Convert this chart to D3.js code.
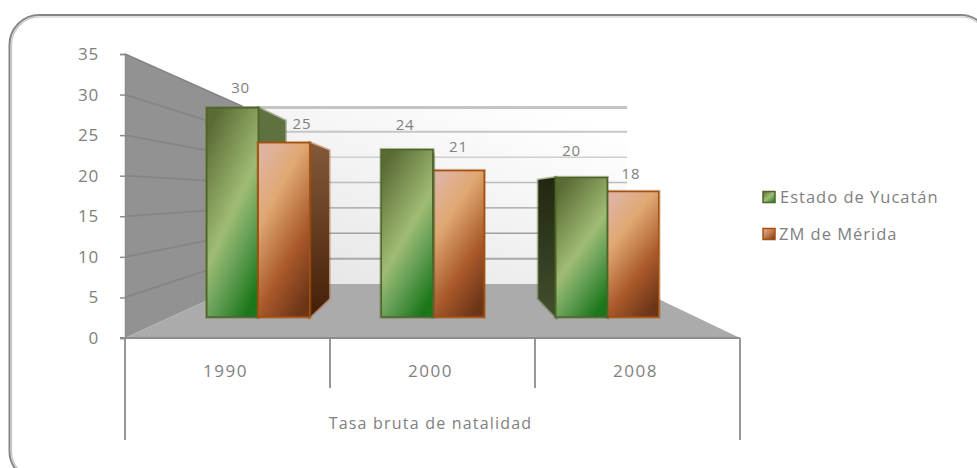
<!DOCTYPE html>
<html>
<head>
<meta charset="utf-8">
<script src="https://cdn.jsdelivr.net/npm/d3@7"></script>
<style>
  html, body { margin: 0; padding: 0; background: #fff; overflow: hidden; }
  text { font-family: "Open Sans", sans-serif; fill: #808080; }
</style>
</head>
<body>
<div id="chart"></div>
<script>
// Chart values
const years = ["1990", "2000", "2008"];
const seriesNames = ["Estado de Yucatán", "ZM de Mérida"];
const yucatan = [30, 24, 20];
const merida = [25, 21, 18];
const valueTicks = [0, 5, 10, 15, 20, 25, 30, 35];
const groupLabel = "Tasa bruta de natalidad";

// Label nudges, the original labels sit wherever Excel put them
const labelNudge = [[[8, -20], [18, -19]], [[-2, -25], [0, -24]], [[-10, -27], [-2, -18]]];

const width = 977;
const height = 468;

// Everything recedes towards one vanishing point
const vanish = [439, 194];
const wallDepth = 0.375;
const barDepth = 0.15;

function project(x, y, k) {
  return [x + (vanish[0] - x) * k, y + (vanish[1] - y) * k];
}

const svg = d3.select("#chart").append("svg")
  .attr("width", width)
  .attr("height", height)
  .style("display", "block");

// scales
const axisY = d3.scaleLinear().domain([0, 35]).range([338, 54]);
const barY = d3.scaleLinear().domain([0, 35]).range([317, 73]);
const floorX = d3.scaleBand().domain(years).range([125, 740]);
const barX = d3.scaleBand().domain(years).range([171, 694.5]).paddingInner(0.41).paddingOuter(0.205);
const seriesX = d3.scaleBand().domain(seriesNames).range([0, barX.bandwidth()]);

// gradients
const defs = svg.append("defs");

function addGradient(id, stops, coords) {
  const g = defs.append("linearGradient").attr("id", id)
    .attr("x1", coords[0]).attr("y1", coords[1]).attr("x2", coords[2]).attr("y2", coords[3]);
  stops.forEach((s) => g.append("stop").attr("offset", s[0]).attr("stop-color", s[1]));
}

const diagonal = [0.24, 0, 0.76, 1];
addGradient("greenFront", [[0, "#5a6c34"], [0.5, "#a0bc74"], [0.72, "#649f55"], [1, "#1a7618"]], diagonal);
addGradient("orangeFront", [[0, "#dfb3a0"], [0.28, "#e0a872"], [0.68, "#a9582a"], [1, "#6c3518"]], diagonal);
addGradient("greenSideRight", [[0, "#5f7240"], [1, "#55683a"]], [0, 0, 0, 1]);
addGradient("orangeSideRight", [[0, "#85593a"], [1, "#431f08"]], [0, 0, 0, 1]);
addGradient("greenSideLeft", [[0, "#20270f"], [1, "#424f2e"]], [0, 0, 0, 1]);
addGradient("orangeSideLeft", [[0, "#85593a"], [1, "#431f08"]], [0, 0, 0, 1]);
addGradient("backWall", [[0, "#e4e4e4"], [0.6, "#f4f4f4"], [1, "#ffffff"]], [0, 1, 0.8, 0]);
addGradient("legendGreen", [[0, "#5a6c34"], [0.5, "#a0bc74"], [1, "#1a7618"]], [0, 0, 1, 1]);
addGradient("legendOrange", [[0, "#dfb3a0"], [0.5, "#c47a4a"], [1, "#6c3518"]], [0, 0, 1, 1]);

// Outer frame, it runs off the page on the right and at the bottom
svg.append("rect").attr("x", 9.5).attr("y", 15).attr("width", 981).attr("height", 466)
  .attr("rx", 30).attr("fill", "none").attr("stroke", "#858585").attr("stroke-width", 2);
svg.append("rect").attr("x", 11.5).attr("y", 17).attr("width", 977).attr("height", 462)
  .attr("rx", 28).attr("fill", "none").attr("stroke", "#c4c4c4").attr("stroke-width", 1.2);

// Walls and floor
const x0 = floorX.range()[0];
const x1 = floorX.range()[1];
const yBase = axisY(0);
const yTop = axisY(35);
const line = d3.line();

const backTL = project(x0, yTop, wallDepth);
const backBL = project(x0, yBase, wallDepth);
const backBR = project(x1, yBase, wallDepth);

svg.append("rect")
  .attr("x", backTL[0]).attr("y", backTL[1])
  .attr("width", backBR[0] - backTL[0]).attr("height", backBR[1] - backTL[1])
  .attr("fill", "url(#backWall)");

svg.append("path")
  .attr("d", line([[x0, yTop], backTL, backBL, [x0, yBase]]) + "Z")
  .attr("fill", "#929292");

svg.append("path")
  .attr("d", line([[x0, yBase], backBL, backBR, [x1, yBase]]) + "Z")
  .attr("fill", "#ababab");

// Gridlines on both walls, projected from the axis ticks
const gridStyle = { 30: ["#c6c6c6", 2], 25: ["#cfcfcf", 1.5], 20: ["#bcbcbc", 1.5], 15: ["#a0a0a0", 1.2],
                    10: ["#a0a0a0", 1.5], 5: ["#a8a8a8", 2], 0: ["#ababab", 0] };

valueTicks.forEach((v) => {
  const back = project(x0, axisY(v), wallDepth);
  const right = project(x1, axisY(v), wallDepth);
  if (v > 0) {
    svg.append("line").attr("x1", x0).attr("y1", axisY(v)).attr("x2", back[0]).attr("y2", back[1])
      .attr("stroke", "#858585").attr("stroke-width", 1.8);
  }
  if (v > 0 && v < 35) {
    svg.append("line").attr("x1", back[0]).attr("y1", back[1]).attr("x2", right[0]).attr("y2", right[1])
      .attr("stroke", gridStyle[v][0]).attr("stroke-width", gridStyle[v][1]);
  }
});
// top edge of the back wall
svg.append("line").attr("x1", backTL[0]).attr("y1", backTL[1] + 1).attr("x2", backBR[0]).attr("y2", backTL[1] + 1)
  .attr("stroke", "#c4c4c4").attr("stroke-width", 3);

// Bars
const bars = [];
years.forEach((year, i) => {
  bars.push({ year: year, i: i, s: 0, value: yucatan[i], name: seriesNames[0], color: "green" });
  bars.push({ year: year, i: i, s: 1, value: merida[i], name: seriesNames[1], color: "orange" });
});

const edgeColor = { green: "#4f6428", orange: "#a3510f" };

function drawBar(d) {
  const g = svg.append("g").attr("class", "bar");
  const left = barX(d.year) + seriesX(d.name);
  const right = left + seriesX.bandwidth();
  const top = barY(d.value);
  const bottom = barY(0);

  // side faces first, only the one that shows past the front
  const side = (x, name) => {
    const t = project(x, top, barDepth);
    const b = project(x, bottom, barDepth);
    const pts = [[x, top], t, b, [x, bottom]];
    g.append("path").attr("d", line(pts) + "Z")
      .attr("fill", "none").attr("stroke", edgeColor[d.color]).attr("stroke-opacity", 0.45).attr("stroke-width", 3);
    g.append("path").attr("d", line(pts) + "Z").attr("fill", "url(#" + d.color + name + ")");
  };
  if (project(right, top, barDepth)[0] > right) side(right, "SideRight");
  if (project(left, top, barDepth)[0] < left) side(left, "SideLeft");

  g.append("rect").attr("x", left).attr("y", top)
    .attr("width", right - left).attr("height", bottom - top)
    .attr("fill", "none").attr("stroke", edgeColor[d.color]).attr("stroke-opacity", 0.4).attr("stroke-width", 3.5);
  g.append("rect").attr("x", left).attr("y", top)
    .attr("width", right - left).attr("height", bottom - top)
    .attr("fill", "url(#" + d.color + "Front)")
    .attr("stroke", edgeColor[d.color]).attr("stroke-width", 1.5);
}

// orange first so the green front covers its left edge; 1990 green side sits behind its orange
bars.filter((d) => d.s === 0 && d.i === 0).forEach(drawBar);
bars.filter((d) => d.s === 1).forEach(drawBar);
bars.filter((d) => d.s === 0 && d.i > 0).forEach(drawBar);

// Data labels
bars.forEach((d) => {
  const nudge = labelNudge[d.i][d.s];
  svg.append("text")
    .attr("x", barX(d.year) + seriesX(d.name) + seriesX.bandwidth() / 2 + nudge[0])
    .attr("y", barY(d.value) + nudge[1])
    .attr("dy", "0.35em")
    .attr("text-anchor", "middle")
    .style("font-size", "15px")
    .style("letter-spacing", "0.8px")
    .text(d.value);
});

// Value axis
const yAxis = svg.append("g")
  .attr("transform", "translate(" + x0 + ",0)")
  .call(d3.axisLeft(axisY).tickValues(valueTicks).tickSize(5).tickPadding(21));
yAxis.select(".domain").attr("stroke", "#8c8c8c").attr("stroke-width", 1.5);
yAxis.selectAll(".tick line").attr("stroke", "#8c8c8c").attr("stroke-width", 1.5);
yAxis.selectAll("text").style("font-family", "'Open Sans', sans-serif").style("font-size", "17px")
  .style("letter-spacing", "0.8px").attr("fill", "#808080");

// Category axis, two levels
svg.append("line").attr("x1", x0 - 5).attr("x2", x1).attr("y1", yBase).attr("y2", yBase)
  .attr("stroke", "#8c8c8c").attr("stroke-width", 2);

const boundaries = years.map((y) => floorX(y)).concat([x1]);
boundaries.forEach((x, i) => {
  const outer = i === 0 || i === years.length;
  svg.append("line").attr("x1", x).attr("x2", x).attr("y1", yBase).attr("y2", outer ? 440 : 388)
    .attr("stroke", "#8c8c8c").attr("stroke-width", 1.8);
});

years.forEach((y) => {
  svg.append("text")
    .attr("x", floorX(y) + floorX.bandwidth() / 2 - 2)
    .attr("y", 371)
    .attr("dy", "0.35em")
    .attr("text-anchor", "middle")
    .style("font-size", "17px")
    .style("letter-spacing", "1.5px")
    .text(y);
});

svg.append("text")
  .attr("x", (x0 + x1) / 2 - 2)
  .attr("y", 423)
  .attr("dy", "0.35em")
  .attr("text-anchor", "middle")
  .style("font-size", "16px")
  .style("letter-spacing", "1.2px")
  .text(groupLabel);

// Legend
const legendY = d3.scalePoint().domain(seriesNames).range([197, 234]);
seriesNames.forEach((name, i) => {
  const c = i === 0 ? "green" : "orange";
  svg.append("rect")
    .attr("x", 763).attr("y", legendY(name) - 5.5).attr("width", 12).attr("height", 11)
    .attr("fill", i === 0 ? "url(#legendGreen)" : "url(#legendOrange)")
    .attr("stroke", edgeColor[c]).attr("stroke-width", 1.5);
  svg.append("text")
    .attr("x", i === 0 ? 780 : 779)
    .attr("y", legendY(name))
    .attr("dy", "0.35em")
    .style("font-size", "16.5px")
    .style("letter-spacing", "1px")
    .text(name);
});
</script>
</body>
</html>
